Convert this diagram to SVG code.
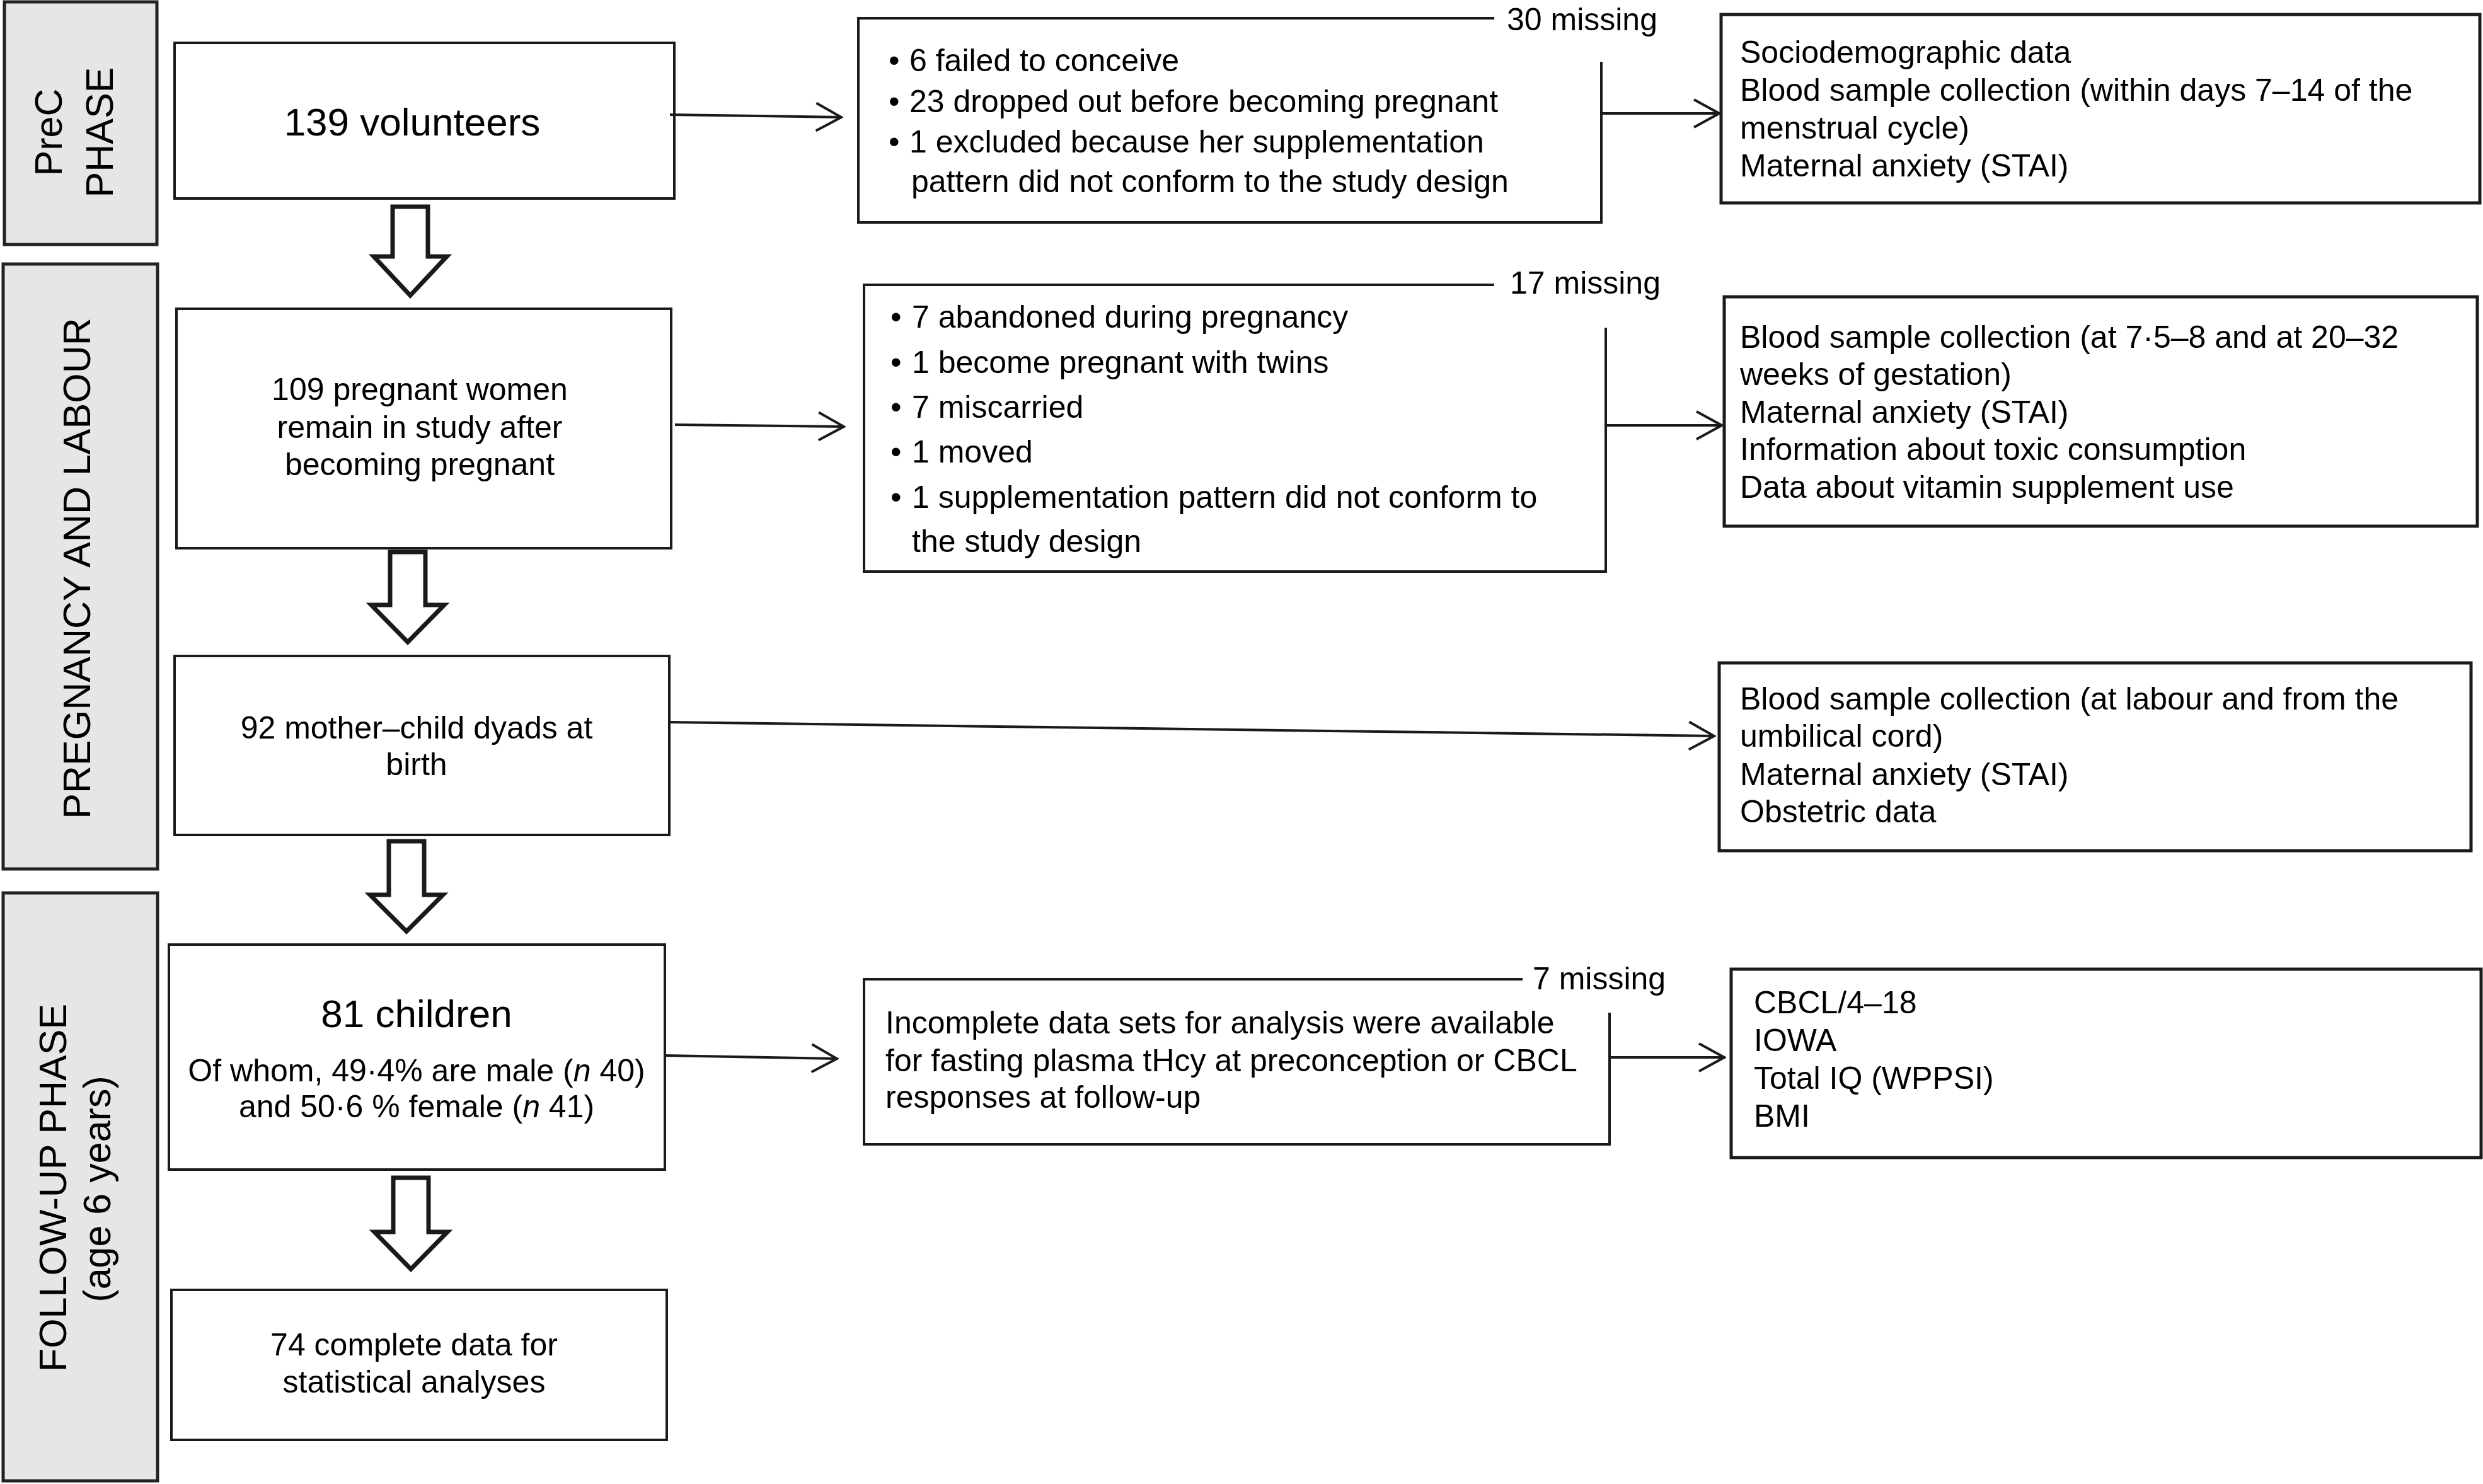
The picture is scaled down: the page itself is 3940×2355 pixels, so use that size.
<svg xmlns="http://www.w3.org/2000/svg" width="3940" height="2355" viewBox="0 0 3940 2355">
<defs>
<style>
.bg{fill:#ffffff}
.phase{fill:#e6e6e6;stroke:#222;stroke-width:5}
.box{fill:#ffffff;stroke:#1a1a1a;stroke-width:4}
.rbox{fill:#ffffff;stroke:#1a1a1a;stroke-width:5}
.open{fill:none;stroke:#1a1a1a;stroke-width:4}
.t{font-family:"Liberation Sans",Arial,Helvetica,sans-serif;font-size:50px;fill:#000}
.big{font-size:62px}
.ph{font-family:"Liberation Sans",Arial,Helvetica,sans-serif;font-size:61px;fill:#000;text-anchor:middle}
.c{text-anchor:middle}
.conn{stroke:#1a1a1a;stroke-width:4;fill:none;marker-end:url(#chev)}
.block{fill:#ffffff;stroke:#1a1a1a;stroke-width:7;stroke-linejoin:miter}
</style>
<marker id="chev" markerUnits="userSpaceOnUse" viewBox="0 0 46 50" markerWidth="46" markerHeight="50" refX="43" refY="25" orient="auto">
<path d="M3,3 L43,25 L3,47" fill="none" stroke="#1a1a1a" stroke-width="4"/>
</marker>
</defs>
<rect class="bg" x="0" y="0" width="3940" height="2355"/>

<g id="phase-prec">
<rect class="phase" x="7" y="3" width="242" height="385"/>
<text class="ph" transform="translate(98,210) rotate(-90)">PreC</text>
<text class="ph" transform="translate(179,210) rotate(-90)">PHASE</text>
</g>
<g id="phase-pregnancy">
<rect class="phase" x="5" y="419" width="245" height="960"/>
<text class="ph" transform="translate(143,902) rotate(-90)">PREGNANCY AND LABOUR</text>
</g>
<g id="phase-followup">
<rect class="phase" x="5" y="1417" width="245" height="933"/>
<text class="ph" transform="translate(105,1885) rotate(-90)">FOLLOW-UP PHASE</text>
<text class="ph" transform="translate(175,1887) rotate(-90)">(age 6 years)</text>
</g>

<g id="n-volunteers">
<rect class="box" x="277" y="68" width="793" height="247"/>
<text class="t big c" x="654" y="215">139 volunteers</text>
</g>
<g id="n-pregnant">
<rect class="box" x="280" y="490" width="785" height="380"/>
<text class="t c" x="666" y="635">109 pregnant women</text>
<text class="t c" x="666" y="695">remain in study after</text>
<text class="t c" x="666" y="754">becoming pregnant</text>
</g>
<g id="n-dyads">
<rect class="box" x="277" y="1041" width="785" height="284"/>
<text class="t c" x="661" y="1172">92 mother–child dyads at</text>
<text class="t c" x="661" y="1230">birth</text>
</g>
<g id="n-children">
<rect class="box" x="268" y="1499" width="787" height="357"/>
<text class="t big c" x="661" y="1630">81 children</text>
<text class="t c" x="661" y="1716">Of whom, 49·4% are male (<tspan font-style="italic">n</tspan> 40)</text>
<text class="t c" x="661" y="1773">and 50·6 % female (<tspan font-style="italic">n</tspan> 41)</text>
</g>
<g id="n-complete">
<rect class="box" x="272" y="2047" width="786" height="238"/>
<text class="t c" x="657" y="2151">74 complete data for</text>
<text class="t c" x="657" y="2210">statistical analyses</text>
</g>

<g id="n-missing30">
<path class="open" d="M2541,98 L2541,353 L1362,353 L1362,29 L2371,29"/>
<text class="t" x="2391" y="48">30 missing</text>
<text class="t" x="1410" y="113">•</text><text class="t" x="1443" y="113">6 failed to conceive</text>
<text class="t" x="1410" y="178">•</text><text class="t" x="1443" y="178">23 dropped out before becoming pregnant</text>
<text class="t" x="1410" y="242">•</text><text class="t" x="1443" y="242">1 excluded because her supplementation</text>
<text class="t" x="1446" y="305">pattern did not conform to the study design</text>
</g>
<g id="n-missing17">
<path class="open" d="M2548,520 L2548,907 L1371,907 L1371,452 L2371,452"/>
<text class="t" x="2396" y="466">17 missing</text>
<text class="t" x="1413" y="520">•</text><text class="t" x="1447" y="520">7 abandoned during pregnancy</text>
<text class="t" x="1413" y="592">•</text><text class="t" x="1447" y="592">1 become pregnant with twins</text>
<text class="t" x="1413" y="663">•</text><text class="t" x="1447" y="663">7 miscarried</text>
<text class="t" x="1413" y="734">•</text><text class="t" x="1447" y="734">1 moved</text>
<text class="t" x="1413" y="806">•</text><text class="t" x="1447" y="806">1 supplementation pattern did not conform to</text>
<text class="t" x="1447" y="876">the study design</text>
</g>
<g id="n-missing7">
<path class="open" d="M2554,1607 L2554,1816 L1371,1816 L1371,1554 L2416,1554"/>
<text class="t" x="2432" y="1570">7 missing</text>
<text class="t" x="1405" y="1640">Incomplete data sets for analysis were available</text>
<text class="t" x="1405" y="1700">for fasting plasma tHcy at preconception or CBCL</text>
<text class="t" x="1405" y="1758">responses at follow-up</text>
</g>

<g id="n-data-prec">
<rect class="rbox" x="2731" y="23" width="1204" height="299"/>
<text class="t" x="2761" y="100">Sociodemographic data</text>
<text class="t" x="2761" y="160">Blood sample collection (within days 7–14 of the</text>
<text class="t" x="2761" y="220">menstrual cycle)</text>
<text class="t" x="2761" y="280">Maternal anxiety (STAI)</text>
</g>
<g id="n-data-preg">
<rect class="rbox" x="2736" y="471" width="1195" height="364"/>
<text class="t" x="2761" y="552">Blood sample collection (at 7·5–8 and at 20–32</text>
<text class="t" x="2761" y="611">weeks of gestation)</text>
<text class="t" x="2761" y="671">Maternal anxiety (STAI)</text>
<text class="t" x="2761" y="730">Information about toxic consumption</text>
<text class="t" x="2761" y="790">Data about vitamin supplement use</text>
</g>
<g id="n-data-birth">
<rect class="rbox" x="2728" y="1052" width="1193" height="298"/>
<text class="t" x="2761" y="1126">Blood sample collection (at labour and from the</text>
<text class="t" x="2761" y="1185">umbilical cord)</text>
<text class="t" x="2761" y="1246">Maternal anxiety (STAI)</text>
<text class="t" x="2761" y="1305">Obstetric data</text>
</g>
<g id="n-data-follow">
<rect class="rbox" x="2747" y="1538" width="1190" height="299"/>
<text class="t" x="2783" y="1608">CBCL/4–18</text>
<text class="t" x="2783" y="1668">IOWA</text>
<text class="t" x="2783" y="1728">Total IQ (WPPSI)</text>
<text class="t" x="2783" y="1788">BMI</text>
</g>

<g id="connectors">
<path class="conn" d="M1063,182 L1335,186"/>
<path class="conn" d="M2541,180 L2728,180"/>
<path class="conn" d="M1071,674 L1339,677"/>
<path class="conn" d="M2548,675 L2732,675"/>
<path class="conn" d="M1060,1146 L2720,1168"/>
<path class="conn" d="M1055,1675 L1328,1680"/>
<path class="conn" d="M2554,1678 L2736,1678"/>
<path class="block" d="M623,328 L679,328 L679,407 L709,407 L651,469 L593,407 L623,407 Z"/>
<path class="block" d="M619,876 L675,876 L675,960 L705,960 L647,1019 L589,960 L619,960 Z"/>
<path class="block" d="M617,1335 L673,1335 L673,1420 L703,1420 L645,1478 L587,1420 L617,1420 Z"/>
<path class="block" d="M624,1869 L680,1869 L680,1955 L710,1955 L652,2014 L594,1955 L624,1955 Z"/>
</g>
</svg>
